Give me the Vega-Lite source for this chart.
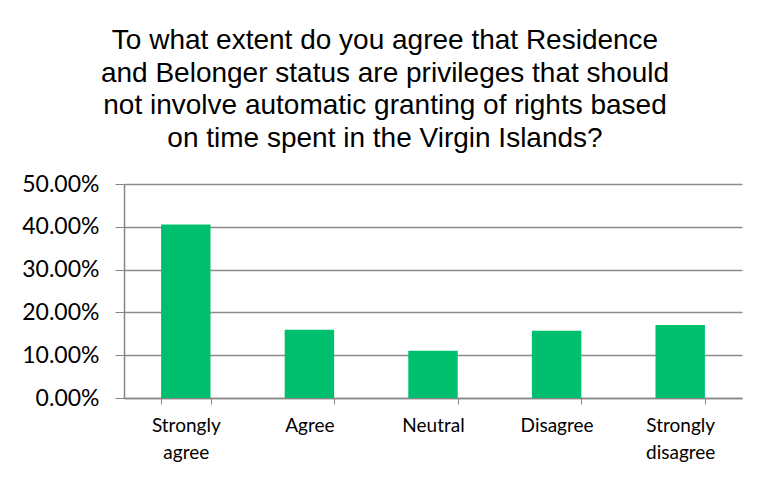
{
  "$schema": "https://vega.github.io/schema/vega-lite/v6.json",
  "width": 618,
  "height": 214,
  "autosize": {"type": "none"},
  "padding": {"left": 124, "top": 184, "right": 27, "bottom": 83},
  "background": "white",
  "title": {
    "text": ["To what extent do you agree that Residence", "and Belonger status are privileges that should", "not involve automatic granting of rights based", "on time spent in the Virgin Islands?"],
    "font": "Liberation Sans",
    "fontSize": 28,
    "fontWeight": "normal",
    "color": "#000000",
    "lineHeight": 32.7,
    "anchor": "middle",
    "dx": -48,
    "offset": 20
  },
  "data": {
    "values": [
      {"response": "Strongly agree", "share": 0.4056},
      {"response": "Agree", "share": 0.1596},
      {"response": "Neutral", "share": 0.1105},
      {"response": "Disagree", "share": 0.157},
      {"response": "Strongly disagree", "share": 0.1706}
    ]
  },
  "mark": {"type": "bar", "color": "#00BF6F"},
  "encoding": {
    "x": {
      "field": "response",
      "type": "nominal",
      "sort": null,
      "scale": {"paddingInner": 0.6, "paddingOuter": 0.3},
      "axis": {
        "title": null,
        "labelAngle": 0,
        "labelExpr": "datum.value == 'Strongly agree' ? ['Strongly', 'agree'] : datum.value == 'Strongly disagree' ? ['Strongly', 'disagree'] : datum.value",
        "labelFont": "Lato",
        "labelFontSize": 19,
        "labelColor": "#000000",
        "labelLineHeight": 27,
        "labelPadding": 12,
        "tickBand": "extent",
        "tickSize": 6,
        "tickColor": "#868686",
        "domainColor": "#868686",
        "domainWidth": 1.5,
        "grid": false
      }
    },
    "y": {
      "field": "share",
      "type": "quantitative",
      "scale": {"domain": [0, 0.5]},
      "axis": {
        "title": null,
        "values": [0, 0.1, 0.2, 0.3, 0.4, 0.5],
        "format": ".2%",
        "labelFont": "Lato",
        "labelFontSize": 23,
        "labelColor": "#000000",
        "labelPadding": 16,
        "tickSize": 9,
        "tickColor": "#868686",
        "domainColor": "#868686",
        "domainWidth": 1.5,
        "grid": true,
        "gridColor": "#8c8c8c",
        "gridWidth": 1.3
      }
    }
  },
  "config": {"view": {"stroke": null}}
}
